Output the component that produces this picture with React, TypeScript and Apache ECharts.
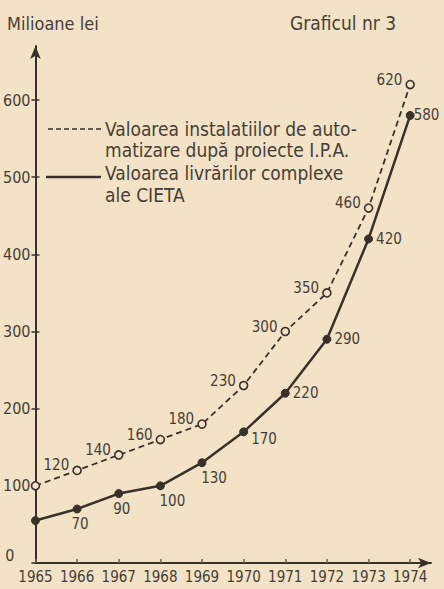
import React, { useEffect, useRef } from "react";
import * as echarts from "echarts";

const YEARS = [1965, 1966, 1967, 1968, 1969, 1970, 1971, 1972, 1973, 1974];
const YEAR_LABELS = ["1965", "1966", "1967", "1968", "1969", "1970", "1971", "1972", "1973", "1974"];
const IPA_VALUES = [100, 120, 140, 160, 180, 230, 300, 350, 460, 620];
const CIETA_VALUES = [55, 70, 90, 100, 130, 170, 220, 290, 420, 580];
const Y_TICKS = [0, 100, 200, 300, 400, 500, 600];
const IPA_SHOW_LABEL = [false, true, true, true, true, true, true, true, true, true];
const CIETA_SHOW_LABEL = [false, true, true, true, true, true, true, true, true, true];
const CIETA_LABEL_POS = ["bottom", "bottom", "bottom", "bottom", "bottom", "right", "right", "right", "right", "right"];
const CIETA_LABEL_SHIFT = [[0, 0], [3, 0], [3, 0], [12, 0], [12, 0], [0, 7], [0, 0], [0, 0], [0, 0], [-4, 0]];

const TITLE_LEFT = "Milioane lei";
const TITLE_RIGHT = "Graficul nr 3";
const LEGEND_IPA = ["Valoarea instalatiilor de auto-", "matizare după proiecte I.P.A."];
const LEGEND_CIETA = ["Valoarea livrărilor complexe", "ale CIETA"];

const BG = "#f4e2c6";
const INK = "#463e36";
const LINE = "#38312b";
const FONT = "'Liberation Sans Narrow', 'DejaVu Sans Condensed', 'Roboto Condensed', 'Liberation Sans', sans-serif";

export default function App() {
  const ref = useRef<HTMLDivElement>(null);
  useEffect(() => {
    if (!ref.current) return;
    const chart = echarts.init(ref.current, null, { renderer: "svg" });
    const txt = (text: string, x: number, y: number, size: number) => ({
      type: "text",
      x,
      y,
      silent: true,
      style: { text, fontSize: size, fontFamily: FONT, fill: INK, verticalAlign: "middle", align: "left" },
    });
    const option: any = {
      animation: false,
      backgroundColor: BG,
      grid: { left: 30, right: 13, top: 46, bottom: 26, containLabel: false },
      xAxis: {
        type: "value",
        min: 1965,
        max: 1974.5,
        interval: 1,
        axisLine: {
          show: true,
          lineStyle: { color: LINE, width: 2 },
          symbol: ["none", "arrow"],
          symbolSize: [8, 13],
        },
        axisTick: { show: true, inside: true, length: 4, customValues: YEARS, lineStyle: { color: "#6b6057", width: 1.5 } },
        axisLabel: {
          customValues: YEARS,
          margin: 6,
          color: INK,
          fontSize: 15,
          fontFamily: FONT,
          formatter: (v: number) => YEAR_LABELS[YEARS.indexOf(v)] ?? "",
        },
        splitLine: { show: false },
      },
      yAxis: [
        {
          type: "value",
          min: 0,
          max: 670,
          interval: 100,
          axisLine: {
            show: true,
            lineStyle: { color: LINE, width: 2 },
            symbol: ["none", "arrow"],
            symbolSize: [8, 13],
          },
          axisTick: { show: true, length: 4, customValues: Y_TICKS, lineStyle: { color: LINE, width: 1.5 } },
          axisLabel: {
            customValues: Y_TICKS,
            margin: 5,
            color: INK,
            fontSize: 16,
            fontFamily: FONT,
            formatter: (v: number) => (v === 0 ? "{z|0}" : String(v)),
            rich: { z: { fontSize: 16, fontFamily: FONT, color: INK, padding: [0, 16, 16, 0] } },
          },
          splitLine: { show: false },
        },
        {
          type: "value",
          position: "left",
          min: 0,
          max: 670,
          interval: 100,
          axisLine: { show: false },
          axisTick: { show: true, inside: true, length: 4, customValues: Y_TICKS, lineStyle: { color: LINE, width: 1.5 } },
          axisLabel: { show: false },
          splitLine: { show: false },
        },
      ],
      series: [
        {
          type: "line",
          clip: false,
          z: 3,
          data: YEARS.map((y, i) => ({
            value: [y, IPA_VALUES[i]],
            label: { show: IPA_SHOW_LABEL[i] },
          })),
          lineStyle: { color: LINE, width: 1.8, type: [6, 4] },
          symbol: "circle",
          symbolSize: 8,
          itemStyle: { color: BG, borderColor: LINE, borderWidth: 1.6 },
          label: {
            show: true,
            position: "left",
            distance: 3,
            offset: [0, -5],
            color: INK,
            fontSize: 15,
            fontFamily: FONT,
          },
        },
        {
          type: "line",
          clip: false,
          z: 4,
          data: YEARS.map((y, i) => ({
            value: [y, CIETA_VALUES[i]],
            label: {
              show: CIETA_SHOW_LABEL[i],
              position: CIETA_LABEL_POS[i],
              offset: CIETA_LABEL_SHIFT[i],
            },
          })),
          lineStyle: { color: LINE, width: 2.5 },
          symbol: "circle",
          symbolSize: 8,
          itemStyle: { color: LINE, borderColor: LINE, borderWidth: 1 },
          label: {
            show: true,
            distance: 3,
            color: INK,
            fontSize: 15,
            fontFamily: FONT,
          },
        },
      ],
      graphic: [
        txt(TITLE_LEFT, 7, 23, 18),
        txt(TITLE_RIGHT, 290, 23, 19),
        {
          type: "line",
          silent: true,
          shape: { x1: 48, y1: 129, x2: 101, y2: 129 },
          style: { stroke: LINE, lineWidth: 1.6, lineDash: [5, 3] },
        },
        {
          type: "line",
          silent: true,
          shape: { x1: 46, y1: 177, x2: 101, y2: 177 },
          style: { stroke: LINE, lineWidth: 2.5 },
        },
        txt(LEGEND_IPA[0], 105, 129, 19),
        txt(LEGEND_IPA[1], 105, 150, 19),
        txt(LEGEND_CIETA[0], 105, 173, 19),
        txt(LEGEND_CIETA[1], 105, 195, 19),
      ],
    };
    chart.setOption(option);
    return () => chart.dispose();
  }, []);
  return (
    <div
      ref={ref}
      style={{ position: "fixed", left: 0, top: 0, width: 444, height: 589, background: BG }}
    />
  );
}
